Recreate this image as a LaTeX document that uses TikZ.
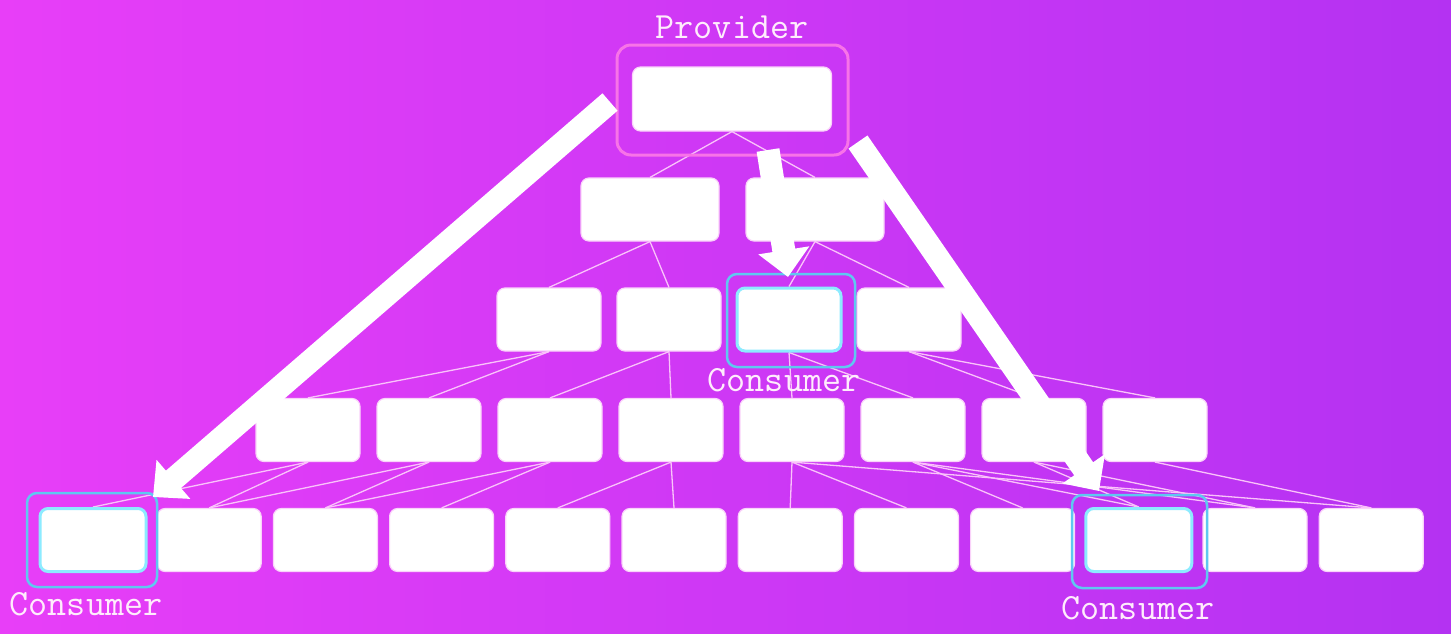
\documentclass[tikz,border=0pt]{standalone}
\usepackage{fontspec}
\usetikzlibrary{arrows.meta}
\pgfdeclarelayer{back}
\pgfsetlayers{back,main}
\definecolor{bgl}{RGB}{232,62,248}
\definecolor{bgr}{RGB}{180,50,242}
\definecolor{boxedge}{RGB}{250,210,250}
\definecolor{cyanglow}{RGB}{140,235,255}
\definecolor{ringc}{RGB}{95,200,240}
\definecolor{provc}{RGB}{248,115,232}
\definecolor{linkc}{RGB}{250,195,250}
\definecolor{lblc}{RGB}{255,236,252}
\tikzset{
  box/.style={rectangle, rounded corners=8pt, fill=white, draw=boxedge, line width=1.2pt,
    minimum width=104pt, minimum height=63pt, inner sep=0pt},
  widebox/.style={box, minimum width=138pt},
  provbox/.style={box, minimum width=199pt, minimum height=64pt},
  consbox/.style={box, draw=cyanglow, line width=3pt, minimum width=106pt},
  link/.style={draw=linkc, line width=1.3pt},
  bigarrow/.style={draw=white, line width=23pt, -{Triangle[length=27pt,width=50pt]}},
  ringbox/.style={rectangle, draw=ringc, line width=2.5pt, rounded corners=10pt, inner sep=0pt},
  provring/.style={rectangle, draw=provc, line width=3pt, rounded corners=14pt, inner sep=0pt},
  lbl/.style={font=\ttfamily\fontsize{37}{37}\selectfont, text=lblc, inner sep=0pt}
}
\begin{document}
\begin{tikzpicture}[x=1pt,y=-1pt]
\useasboundingbox (0,0) rectangle (1451,633);
\begin{pgfonlayer}{back}
  \shade[left color=bgl, right color=bgr] (0,0) rectangle (1451,633);
\end{pgfonlayer}
% row 1
\node[provbox] (p) at (732,99) {};
\node[provring, minimum width=231pt, minimum height=110pt] (pring) at (732.5,100) {};
\node[lbl] (plbl) at (732,27) {Provider};
% row 2
\node[widebox] (b1) at (650,209.5) {};
\node[widebox] (b2) at (815,209.5) {};
% row 3
\node[box] (c1) at (549,319.5) {};
\node[box] (c2) at (669,319.5) {};
\node[consbox, minimum width=104pt] (c3) at (789,319.5) {};
\node[box] (c4) at (909,319.5) {};
% row 4
\foreach \i in {1,...,8} {
  \node[box] (d\i) at ({308+121*(\i-1)},430) {};
}
% row 5
\foreach \i in {2,...,9,11,12} {
  \node[box] (e\i) at ({93+116.2*(\i-1)},540) {};
}
\node[consbox] (e1) at (93,540) {};
\node[consbox] (e10) at ({93+116.2*9},540) {};
% consumer rings
\node[ringbox, minimum width=128pt, minimum height=93pt] (ring3) at (791,320.5) {};
\node[ringbox, minimum width=130pt, minimum height=94pt] (ring1) at (92,540) {};
\node[ringbox, minimum width=135pt, minimum height=93pt] (ring10) at (1139.5,541.5) {};
\node[lbl] (l3) at (784,380) {Consumer};
\node[lbl] (l1) at (86,604) {Consumer};
\node[lbl] (l10) at (1138,608) {Consumer};
% tree links
\begin{pgfonlayer}{back}
  \draw[link] (p.south) -- (b1.north);
  \draw[link] (p.south) -- (b2.north);
  \draw[link] (b1.south) -- (c1.north);
  \draw[link] (b1.south) -- (c2.north);
  \draw[link] (b2.south) -- (c3.north);
  \draw[link] (b2.south) -- (c4.north);
  \foreach \a/\b in {1/1,1/2,2/3,2/4,3/5,3/6,4/7,4/8}
    \draw[link] (c\a.south) -- (d\b.north);
  \foreach \a/\b in {1/1,1/2,2/2,2/3,3/3,3/4,4/5,4/6,5/7,5/8,6/9,6/10,6/11,7/10,7/11,8/12,5/12}
    \draw[link] (d\a.south) -- (e\b.north);
\end{pgfonlayer}
% big arrows
\coordinate (a1s) at (610,102);
\coordinate (a1e) at (153,497);
\coordinate (a2s) at (768,150);
\coordinate (a2e) at (788,277);
\coordinate (a3s) at (858,142);
\coordinate (a3e) at (1099,491);
\draw[bigarrow] (a1s) -- (a1e);
\draw[bigarrow] (a2s) -- (a2e);
\draw[bigarrow] (a3s) -- (a3e);
\end{tikzpicture}
\end{document}
